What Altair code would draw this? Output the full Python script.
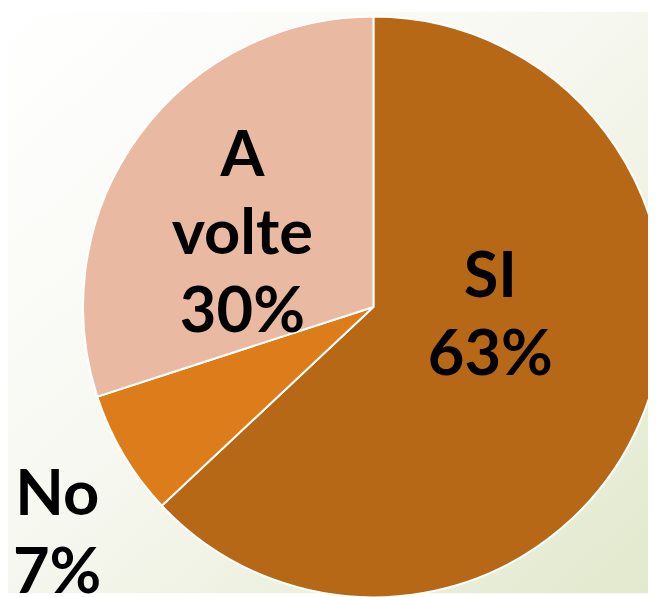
import altair as alt
import pandas as pd

categories = ["SI", "No", "A volte"]
values = [63, 7, 30]
labels = [["SI", "63%"], ["No", "7%"], ["A", "volte", "30%"]]
colors = ["#B76816", "#DD7C1A", "#E9B9A1"]

df = pd.DataFrame({
    "cat": categories,
    "val": values,
    "order": list(range(len(categories))),
    "label": labels,
})

W, H = 648, 589
CX, CY = 370, 299

bg = alt.Chart(pd.DataFrame({"a": [0]})).mark_rect(
    color=alt.LinearGradient(
        gradient="linear",
        stops=[
            alt.GradientStop(color="#FFFFFF", offset=0),
            alt.GradientStop(color="#F7F8F1", offset=0.45),
            alt.GradientStop(color="#E2E9CD", offset=1),
        ],
        x1=0, y1=0, x2=1, y2=1,
    )
).encode(x=alt.value(0), x2=alt.value(W), y=alt.value(0), y2=alt.value(H))

pie = alt.Chart(df).mark_arc(stroke="white", strokeWidth=2).encode(
    theta=alt.Theta("val:Q", stack=True),
    order=alt.Order("order:Q"),
    color=alt.Color("cat:N", scale=alt.Scale(domain=categories, range=colors), legend=None),
    x=alt.value(CX), y=alt.value(CY), radius=alt.value(294),
)

def lbl(cat, r, dx, dy):
    return alt.Chart(df).transform_stack(
        stack="val", as_=["v0", "v1"], groupby=[], sort=[alt.SortField("order")]
    ).transform_calculate(
        mid="(datum.v0 + datum.v1) / 2"
    ).transform_filter(alt.datum.cat == cat).mark_text(
        font="Lato", fontWeight="bold", fontSize=64, lineHeight=79,
        align="center", baseline="alphabetic", color="black", dx=dx, dy=dy,
    ).encode(
        theta=alt.Theta("mid:Q", scale=alt.Scale(domain=[0, 100])),
        text="label",
        x=alt.value(CX), y=alt.value(CY), radius=alt.value(r),
    )

t_si = lbl("SI", 129, 0, -61)
t_av = lbl("A volte", 164, 0, -36)
t_no = lbl("No", 372, 0, 21)

chart = alt.layer(bg, pie, t_si, t_av, t_no).properties(
    width=W, height=H, padding=0,
    autosize=alt.AutoSizeParams(type="none"),
).configure_view(stroke=None)

chart.save("out.html", embed_options={"renderer": "svg", "actions": False})
